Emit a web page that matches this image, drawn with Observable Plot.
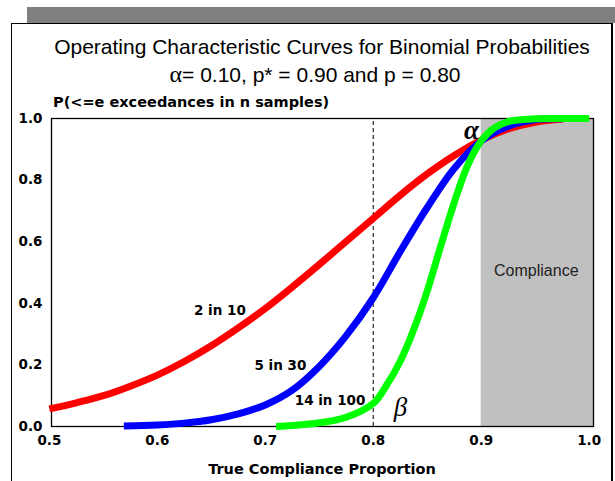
<!DOCTYPE html>
<html>
<head>
<meta charset="utf-8">
<script src="https://cdn.jsdelivr.net/npm/d3@7"></script>
<script src="https://cdn.jsdelivr.net/npm/@observablehq/plot@0.6"></script>
<style>
  html, body { margin: 0; padding: 0; background: #fff; }
  #wrap { position: relative; width: 615px; height: 481px; overflow: hidden; background: #fff; }
  #bar { position: absolute; left: 27px; top: 7px; width: 588px; height: 16px; background: #808080; }
  #box { position: absolute; left: 11px; top: 23px; width: 599px; height: 500px;
         border-left: 1px solid #000; border-top: 1px solid #000; border-right: 2px solid #000; }
  #chart { position: absolute; left: 0; top: 0; }
  .t { position: absolute; white-space: nowrap; color: #000; }
  #title { left: 22px; width: 600px; top: 35px; text-align: center;
           font: 21px "Liberation Sans", Arial, sans-serif; }
  #subtitle { left: 15px; width: 600px; top: 61px; text-align: center;
              font: 21px "Liberation Sans", Arial, sans-serif; }
  #subtitle .greek { font-family: "Liberation Serif", serif; font-size: 24px; }
  #ylabel { left: 53px; top: 94px; font: bold 14.5px "DejaVu Sans", sans-serif; }
  #xlabel { left: 12px; width: 620px; top: 461px; text-align: center;
            font: bold 14.5px "DejaVu Sans", sans-serif; }
</style>
</head>
<body>
<div id="wrap">
  <div id="bar"></div>
  <div id="box"></div>
  <div id="chart"></div>
  <div class="t" id="title">Operating Characteristic Curves for Binomial Probabilities</div>
  <div class="t" id="subtitle"><span class="greek">α</span>= 0.10, p* = 0.90 and p = 0.80</div>
  <div class="t" id="ylabel">P(&lt;=e exceedances in n samples)</div>
  <div class="t" id="xlabel">True Compliance Proportion</div>
</div>
<script>
// Operating characteristic curves: probability of at most e exceedances in n samples
// versus the true compliance proportion.

// Axis ticks
const xTicks = [0.5, 0.6, 0.7, 0.8, 0.9, 1.0];
const yTicks = [0.0, 0.2, 0.4, 0.6, 0.8, 1.0];

// Reference proportions: p (rejectable quality) and p* (compliance threshold)
const pLimit = 0.80;
const pStar = 0.90;

// Series names
const seriesNames = ["2 in 10", "5 in 30", "14 in 100"];

// 2 exceedances allowed in 10 samples
const p10 = [0.500, 0.525, 0.550, 0.575, 0.600, 0.625, 0.650, 0.675, 0.700, 0.725,
             0.750, 0.775, 0.800, 0.825, 0.850, 0.875, 0.900, 0.925, 0.950, 0.976];
const in10 = [0.057, 0.077, 0.100, 0.131, 0.167, 0.211, 0.262, 0.320, 0.383, 0.453,
              0.526, 0.601, 0.676, 0.751, 0.820, 0.880, 0.930, 0.966, 0.988, 0.998];

// 5 exceedances allowed in 30 samples
const p30 = [0.569, 0.600, 0.625, 0.650, 0.675, 0.700, 0.725, 0.750, 0.775, 0.800,
             0.825, 0.850, 0.875, 0.900, 0.925, 0.950, 0.976];
const in30 = [0.002, 0.005, 0.011, 0.022, 0.041, 0.070, 0.118, 0.195, 0.295, 0.418,
              0.568, 0.711, 0.838, 0.927, 0.975, 0.996, 0.999];

// 14 exceedances allowed in 100 samples
const p100 = [0.710, 0.725, 0.750, 0.775, 0.800, 0.8125, 0.825, 0.8375, 0.850, 0.8625,
              0.875, 0.8875, 0.900, 0.9125, 0.925, 0.950, 0.975, 1.000];
const in100 = [0.000, 0.003, 0.012, 0.030, 0.075, 0.135, 0.212, 0.315, 0.440, 0.586,
               0.727, 0.848, 0.927, 0.970, 0.990, 0.999, 1.000, 1.000];

const toRows = (ps, vs) => ps.map((p, i) => ({p, v: vs[i]}));
const curves = [
  {name: seriesNames[0], rows: toRows(p10, in10), color: "#ff0000", lx: 0.658, ly: 0.377},
  {name: seriesNames[1], rows: toRows(p30, in30), color: "#0000ff", lx: 0.714, ly: 0.198},
  {name: seriesNames[2], rows: toRows(p100, in100), color: "#00ff00", lx: 0.760, ly: 0.084}
];

const xMin = 0.502, xMax = 1.004;
const font = "DejaVu Sans, sans-serif";

const chart = Plot.plot({
  width: 615,
  height: 481,
  marginLeft: 51,
  marginRight: 22,
  marginTop: 118,
  marginBottom: 55,
  style: {background: "transparent", fontFamily: font, overflow: "visible"},
  x: {domain: [xMin, xMax], axis: null},
  y: {domain: [0, 1], axis: null},
  marks: [
    // compliance region, p at or above p*
    Plot.rect([{x1: pStar, x2: xMax, y1: 0, y2: 1}],
      {x1: "x1", x2: "x2", y1: "y1", y2: "y2", fill: "#c0c0c0"}),
    Plot.text(["Compliance"], {x: 0.951, y: 0.506, text: d => d,
      fontSize: 16, fill: "#222", fontFamily: "Liberation Sans, Arial, sans-serif"}),
    Plot.frame({stroke: "#000", strokeWidth: 1.3}),
    Plot.ruleX([pLimit], {y1: 0, y2: 1, stroke: "#000", strokeWidth: 1, strokeDasharray: "4,3"}),
    ...curves.map(c => Plot.line(c.rows, {x: "p", y: "v", stroke: c.color,
      strokeWidth: 7, curve: "catmull-rom", strokeLinecap: "butt"})),
    ...curves.map(c => Plot.text([c.name], {x: c.lx, y: c.ly, text: d => d,
      fontSize: 13.5, fontWeight: "bold", fill: "#000"})),
    // alpha and beta risk markers
    Plot.text(["α"], {x: 0.891, y: 0.962, text: d => d, fontSize: 27,
      fontWeight: "bold", fontStyle: "italic", fontFamily: "Liberation Serif, serif"}),
    Plot.text(["β"], {x: 0.8252, y: 0.062, text: d => d, fontSize: 27,
      fontStyle: "italic", fontFamily: "Liberation Serif, serif"}),
    // tick labels
    Plot.text(xTicks, {x: d => d, frameAnchor: "bottom", dy: 18,
      text: d => d.toFixed(1), fontSize: 13.5, fontWeight: "bold"}),
    Plot.text(yTicks, {y: d => d, frameAnchor: "left", dx: -9, textAnchor: "end",
      text: d => d.toFixed(1), fontSize: 13.5, fontWeight: "bold"})
  ]
});
document.getElementById("chart").appendChild(chart);
</script>
</body>
</html>
